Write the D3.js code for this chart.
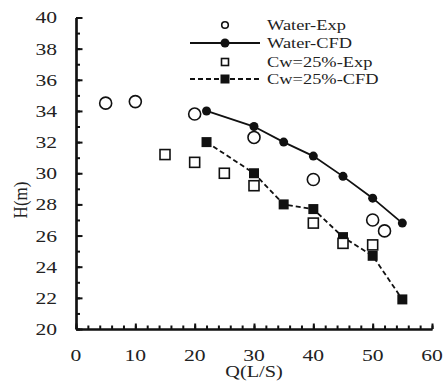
<!DOCTYPE html>
<html>
<head>
<meta charset="utf-8">
<script src="https://cdn.jsdelivr.net/npm/d3@7"></script>
<style>
  body { margin: 0; background: #fff; }
  svg { display: block; }
  text { font-family: "Liberation Serif", "Times New Roman", serif; fill: #222; }
</style>
</head>
<body>
<div id="chart"></div>
<script>
// values
const waterExpQ = [5, 10, 20, 30, 40, 50, 52];
const waterExpH = [34.5, 34.6, 33.8, 32.3, 29.6, 27.0, 26.3];
const waterCfdQ = [22, 30, 35, 40, 45, 50, 55];
const waterCfdH = [34.0, 33.0, 32.0, 31.1, 29.8, 28.4, 26.8];
const cwExpQ = [15, 20, 25, 30, 40, 45, 50];
const cwExpH = [31.2, 30.7, 30.0, 29.2, 26.8, 25.5, 25.4];
const cwCfdQ = [22, 30, 35, 40, 45, 50, 55];
const cwCfdH = [32.0, 30.0, 28.0, 27.7, 25.9, 24.7, 21.9];

const xTicks = [0, 10, 20, 30, 40, 50, 60];
const yTicks = [20, 22, 24, 26, 28, 30, 32, 34, 36, 38, 40];
const legendNames = ["Water-Exp", "Water-CFD", "Cw=25%-Exp", "Cw=25%-CFD"];

const W = 447, H = 382;
const stretch = 1.27; // the picture is wider than tall in its glyphs

const svg = d3.select("#chart").append("svg")
  .attr("width", W).attr("height", H);

const x = d3.scaleLinear().domain([0, 60]).range([76, 432]);
const y = d3.scaleLinear().domain([20, 40]).range([329, 17.5]);

const zip = (a, b) => a.map((v, i) => [v, b[i]]);

// axes: ticks point inward
const axisG = svg.append("g");
axisG.append("g")
  .attr("transform", `translate(0,${y(20)})`)
  .call(d3.axisBottom(x).tickValues(d3.range(0, 61, 2)).tickSizeInner(-3.5).tickSizeOuter(0).tickFormat(""));
axisG.append("g")
  .attr("transform", `translate(0,${y(20)})`)
  .call(d3.axisBottom(x).tickValues(xTicks).tickSizeInner(-5.5).tickSizeOuter(0).tickFormat(""));
axisG.append("g")
  .attr("transform", `translate(${x(0)},0)`)
  .call(d3.axisLeft(y).tickValues(d3.range(20, 41, 1)).tickSizeInner(-4).tickSizeOuter(0).tickFormat(""));
axisG.append("g")
  .attr("transform", `translate(${x(0)},0)`)
  .call(d3.axisLeft(y).tickValues(yTicks).tickSizeInner(-6.5).tickSizeOuter(0).tickFormat(""));
axisG.selectAll("path.domain").attr("stroke", "#111").attr("stroke-width", 2.2);
axisG.selectAll(".tick line").attr("stroke", "#111").attr("stroke-width", 2);

// tick labels
svg.append("g").selectAll("text").data(yTicks).join("text")
  .attr("transform", d => `translate(57,${y(d)}) scale(${stretch},1)`)
  .attr("text-anchor", "end")
  .attr("dy", "0.35em")
  .style("font-size", "17px")
  .text(d => d);

svg.append("g").selectAll("text").data(xTicks).join("text")
  .attr("transform", d => `translate(${x(d)},361) scale(${stretch},1)`)
  .attr("text-anchor", "middle")
  .style("font-size", "17px")
  .text(d => d);

// axis titles
svg.append("text")
  .attr("transform", `translate(254,377) scale(${stretch},1)`)
  .attr("text-anchor", "middle")
  .style("font-size", "16px")
  .text("Q(L/S)");

svg.append("text")
  .attr("transform", `translate(27,200) rotate(-90) scale(1,1.15)`)
  .attr("text-anchor", "middle")
  .style("font-size", "17px")
  .text("H(m)");

// lines
const line = d3.line().x(d => x(d[0])).y(d => y(d[1]));
svg.append("path").datum(zip(waterCfdQ, waterCfdH))
  .attr("d", line).attr("fill", "none").attr("stroke", "#111").attr("stroke-width", 1.8);
svg.append("path").datum(zip(cwCfdQ, cwCfdH))
  .attr("d", line).attr("fill", "none").attr("stroke", "#111").attr("stroke-width", 1.8)
  .attr("stroke-dasharray", "5,3");

// markers
svg.append("g").selectAll("circle").data(zip(waterCfdQ, waterCfdH)).join("circle")
  .attr("cx", d => x(d[0])).attr("cy", d => y(d[1])).attr("r", 4.5).attr("fill", "#111");
svg.append("g").selectAll("rect").data(zip(cwCfdQ, cwCfdH)).join("rect")
  .attr("x", d => x(d[0]) - 5).attr("y", d => y(d[1]) - 5)
  .attr("width", 10).attr("height", 10).attr("fill", "#111");
svg.append("g").selectAll("circle").data(zip(waterExpQ, waterExpH)).join("circle")
  .attr("cx", d => x(d[0])).attr("cy", d => y(d[1])).attr("r", 6)
  .attr("fill", "#fff").attr("stroke", "#111").attr("stroke-width", 1.6);
svg.append("g").selectAll("rect").data(zip(cwExpQ, cwExpH)).join("rect")
  .attr("x", d => x(d[0]) - 5).attr("y", d => y(d[1]) - 5)
  .attr("width", 10).attr("height", 10)
  .attr("fill", "#fff").attr("stroke", "#111").attr("stroke-width", 1.6);

// legend
const legend = svg.append("g");
const rowY = [25, 43, 62, 79];
const mx = 225;
legend.append("line").attr("x1", 190).attr("x2", 260).attr("y1", rowY[1]).attr("y2", rowY[1])
  .attr("stroke", "#111").attr("stroke-width", 1.8);
legend.append("line").attr("x1", 190).attr("x2", 260).attr("y1", rowY[3]).attr("y2", rowY[3])
  .attr("stroke", "#111").attr("stroke-width", 1.8).attr("stroke-dasharray", "5,3");
legend.append("circle").attr("cx", mx).attr("cy", rowY[0]).attr("r", 3.3)
  .attr("fill", "#fff").attr("stroke", "#111").attr("stroke-width", 1.6);
legend.append("circle").attr("cx", mx).attr("cy", rowY[1]).attr("r", 4.5).attr("fill", "#111");
legend.append("rect").attr("x", mx - 3.5).attr("y", rowY[2] - 3.5).attr("width", 7).attr("height", 7)
  .attr("fill", "#fff").attr("stroke", "#111").attr("stroke-width", 1.6);
legend.append("rect").attr("x", mx - 4.5).attr("y", rowY[3] - 4.5).attr("width", 9).attr("height", 9)
  .attr("fill", "#111");
legend.selectAll("text").data(legendNames).join("text")
  .attr("transform", (d, i) => `translate(267,${rowY[i]}) scale(${stretch},1)`)
  .attr("dy", "0.35em")
  .style("font-size", "14.5px")
  .text(d => d);
</script>
</body>
</html>
